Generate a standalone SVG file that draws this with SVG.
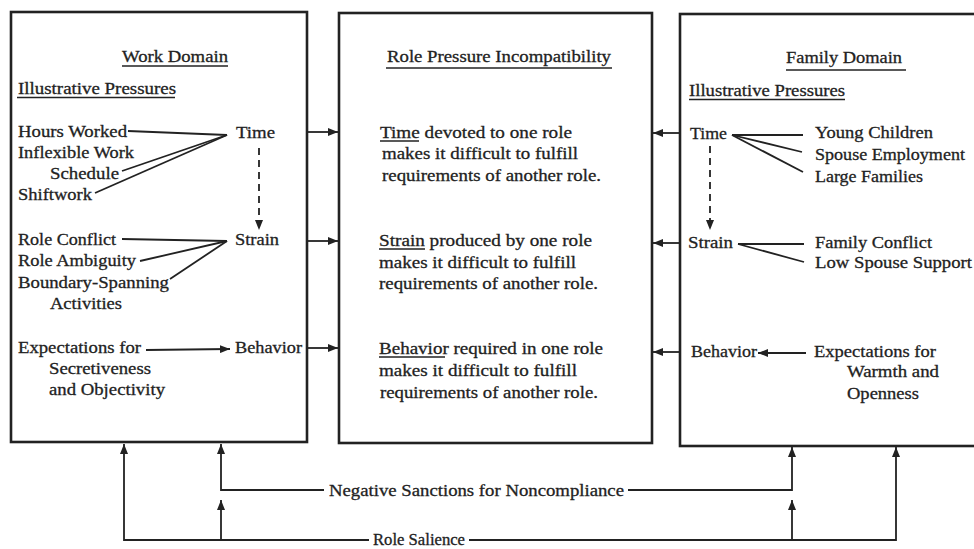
<svg xmlns="http://www.w3.org/2000/svg" width="974" height="549" viewBox="0 0 974 549">
<style>
  .box { fill: #fff; stroke: #222; stroke-width: 2.6; }
  .t { font-family: "Liberation Serif", "Times New Roman", serif; font-size: 17px; fill: #222; stroke: #222; stroke-width: 0.3; }
  .lbl { font-family: "Liberation Serif", "Times New Roman", serif; font-size: 17px; fill: #222; stroke: #222; stroke-width: 0.3; }
  .sm { font-size: 16px; }
  .ln { stroke: #222; stroke-width: 1.8; fill: none; }
  .ul { stroke: #222; stroke-width: 1.6; }
  .dash { stroke: #222; stroke-width: 1.8; fill: none; stroke-dasharray: 7 5; }
</style>
<defs>
  <marker id="ah" markerUnits="userSpaceOnUse" markerWidth="10" markerHeight="8" refX="10" refY="4" orient="auto">
    <path d="M0,0 L10,4 L0,8 z" fill="#222"/>
  </marker>
</defs>
<rect width="974" height="549" fill="#fff"/>

<g id="work-domain">
  <rect class="box" x="11" y="12" width="296" height="430"/>
  <text class="t" x="122" y="62" textLength="106" lengthAdjust="spacingAndGlyphs">Work Domain</text>
  <line class="ul" x1="122" y1="66" x2="228" y2="66"/>
  <text class="t" x="18" y="94" textLength="158" lengthAdjust="spacingAndGlyphs">Illustrative Pressures</text>
  <line class="ul" x1="17" y1="97.5" x2="175" y2="97.5"/>
  <text class="t" x="18" y="137" textLength="109" lengthAdjust="spacingAndGlyphs">Hours Worked</text>
  <text class="t" x="18" y="158" textLength="116" lengthAdjust="spacingAndGlyphs">Inflexible Work</text>
  <text class="t" x="50" y="179" textLength="69" lengthAdjust="spacingAndGlyphs">Schedule</text>
  <text class="t" x="18" y="200" textLength="74" lengthAdjust="spacingAndGlyphs">Shiftwork</text>
  <text class="t" x="18" y="245" textLength="98" lengthAdjust="spacingAndGlyphs">Role Conflict</text>
  <text class="t" x="18" y="266" textLength="118" lengthAdjust="spacingAndGlyphs">Role Ambiguity</text>
  <text class="t" x="18" y="288" textLength="151" lengthAdjust="spacingAndGlyphs">Boundary-Spanning</text>
  <text class="t" x="50" y="309" textLength="72" lengthAdjust="spacingAndGlyphs">Activities</text>
  <text class="t" x="18" y="353" textLength="123" lengthAdjust="spacingAndGlyphs">Expectations for</text>
  <text class="t" x="49" y="374" textLength="102" lengthAdjust="spacingAndGlyphs">Secretiveness</text>
  <text class="t" x="49" y="395" textLength="116" lengthAdjust="spacingAndGlyphs">and Objectivity</text>
  <g id="work-time"><text class="t" x="236" y="138" textLength="39" lengthAdjust="spacingAndGlyphs">Time</text></g>
  <g id="work-strain"><text class="t" x="235" y="245" textLength="44" lengthAdjust="spacingAndGlyphs">Strain</text></g>
  <g id="work-behavior"><text class="t" x="235" y="353" textLength="67" lengthAdjust="spacingAndGlyphs">Behavior</text></g>
</g>

<g id="role-pressure-incompatibility">
  <rect class="box" x="339" y="13" width="313" height="430"/>
  <text class="t" x="387" y="62" textLength="224" lengthAdjust="spacingAndGlyphs">Role Pressure Incompatibility</text>
  <line class="ul" x1="386" y1="68" x2="612" y2="68"/>
  <text class="t" x="380" y="138" textLength="192" lengthAdjust="spacingAndGlyphs">Time devoted to one role</text>
  <line class="ul" x1="380" y1="141" x2="419" y2="141"/>
  <text class="t" x="382" y="159" textLength="196" lengthAdjust="spacingAndGlyphs">makes it difficult to fulfill</text>
  <text class="t" x="382" y="181" textLength="219" lengthAdjust="spacingAndGlyphs">requirements of another role.</text>
  <text class="t" x="379" y="246" textLength="213" lengthAdjust="spacingAndGlyphs">Strain produced by one role</text>
  <line class="ul" x1="379" y1="249" x2="425" y2="249"/>
  <text class="t" x="379" y="268" textLength="197" lengthAdjust="spacingAndGlyphs">makes it difficult to fulfill</text>
  <text class="t" x="379" y="289" textLength="219" lengthAdjust="spacingAndGlyphs">requirements of another role.</text>
  <text class="t" x="379" y="354" textLength="224" lengthAdjust="spacingAndGlyphs">Behavior required in one role</text>
  <line class="ul" x1="379" y1="357" x2="445" y2="357"/>
  <text class="t" x="379" y="376" textLength="198" lengthAdjust="spacingAndGlyphs">makes it difficult to fulfill</text>
  <text class="t" x="380" y="398" textLength="218" lengthAdjust="spacingAndGlyphs">requirements of another role.</text>
</g>

<g id="family-domain">
  <rect class="box" x="680" y="14" width="310" height="432"/>
  <text class="t" x="786" y="63" textLength="116" lengthAdjust="spacingAndGlyphs">Family Domain</text>
  <line class="ul" x1="786" y1="70" x2="906" y2="70"/>
  <text class="t" x="689" y="96" textLength="156" lengthAdjust="spacingAndGlyphs">Illustrative Pressures</text>
  <line class="ul" x1="689" y1="99.5" x2="845" y2="99.5"/>
  <text class="t" x="815" y="138" textLength="118" lengthAdjust="spacingAndGlyphs">Young Children</text>
  <text class="t" x="815" y="160" textLength="150" lengthAdjust="spacingAndGlyphs">Spouse Employment</text>
  <text class="t" x="815" y="182" textLength="108" lengthAdjust="spacingAndGlyphs">Large Families</text>
  <text class="t" x="815" y="248" textLength="117" lengthAdjust="spacingAndGlyphs">Family Conflict</text>
  <text class="t" x="815" y="268" textLength="157" lengthAdjust="spacingAndGlyphs">Low Spouse Support</text>
  <text class="t" x="814" y="357" textLength="122" lengthAdjust="spacingAndGlyphs">Expectations for</text>
  <text class="t" x="847" y="377" textLength="92" lengthAdjust="spacingAndGlyphs">Warmth and</text>
  <text class="t" x="847" y="399" textLength="72" lengthAdjust="spacingAndGlyphs">Openness</text>
  <g id="family-time"><text class="t" x="690" y="139" textLength="37" lengthAdjust="spacingAndGlyphs">Time</text></g>
  <g id="family-strain"><text class="t" x="688" y="248" textLength="45" lengthAdjust="spacingAndGlyphs">Strain</text></g>
  <g id="family-behavior"><text class="t" x="691" y="357" textLength="66" lengthAdjust="spacingAndGlyphs">Behavior</text></g>
</g>

<g id="connectors">
  <line class="ln" x1="128" y1="131" x2="227" y2="135"/>
  <line class="ln" x1="122" y1="171" x2="227" y2="135"/>
  <line class="ln" x1="95" y1="193" x2="227" y2="135"/>
  <line class="ln" x1="122" y1="239" x2="227" y2="241"/>
  <line class="ln" x1="140" y1="261" x2="227" y2="241"/>
  <line class="ln" x1="170" y1="279" x2="227" y2="241"/>
  <line class="ln" x1="146" y1="350" x2="230" y2="349" marker-end="url(#ah)"/>
  <line class="dash" x1="259" y1="148" x2="259" y2="230" marker-end="url(#ah)"/>
  <line class="ln" x1="732" y1="135" x2="803" y2="135"/>
  <line class="ln" x1="732" y1="135" x2="802" y2="152"/>
  <line class="ln" x1="732" y1="135" x2="803" y2="172"/>
  <line class="ln" x1="738" y1="244" x2="804" y2="244"/>
  <line class="ln" x1="738" y1="244" x2="804" y2="262"/>
  <line class="ln" x1="806" y1="353" x2="758" y2="353" marker-end="url(#ah)"/>
  <line class="dash" x1="710" y1="146" x2="710" y2="230" marker-end="url(#ah)"/>
  <line class="ln" x1="308" y1="132" x2="338" y2="132" marker-end="url(#ah)"/>
  <line class="ln" x1="308" y1="241" x2="338" y2="241" marker-end="url(#ah)"/>
  <line class="ln" x1="308" y1="348" x2="338" y2="348" marker-end="url(#ah)"/>
  <line class="ln" x1="679" y1="133" x2="653" y2="133" marker-end="url(#ah)"/>
  <line class="ln" x1="679" y1="243" x2="653" y2="243" marker-end="url(#ah)"/>
  <line class="ln" x1="679" y1="352" x2="653" y2="352" marker-end="url(#ah)"/>
  <polyline class="ln" points="324,490 221,490 221,444" marker-end="url(#ah)"/>
  <polyline class="ln" points="628,490 792,490 792,447" marker-end="url(#ah)"/>
  <text class="lbl" x="329" y="496" textLength="295" lengthAdjust="spacingAndGlyphs">Negative Sanctions for Noncompliance</text>
  <polyline class="ln" points="369,540 124,540 124,444" marker-end="url(#ah)"/>
  <polyline class="ln" points="469,540 896,540 896,447" marker-end="url(#ah)"/>
  <line class="ln" x1="221" y1="540" x2="221" y2="500" marker-end="url(#ah)"/>
  <line class="ln" x1="792" y1="540" x2="792" y2="500" marker-end="url(#ah)"/>
  <text class="lbl sm" x="373" y="545" textLength="92" lengthAdjust="spacingAndGlyphs">Role Salience</text>
</g>
</svg>
